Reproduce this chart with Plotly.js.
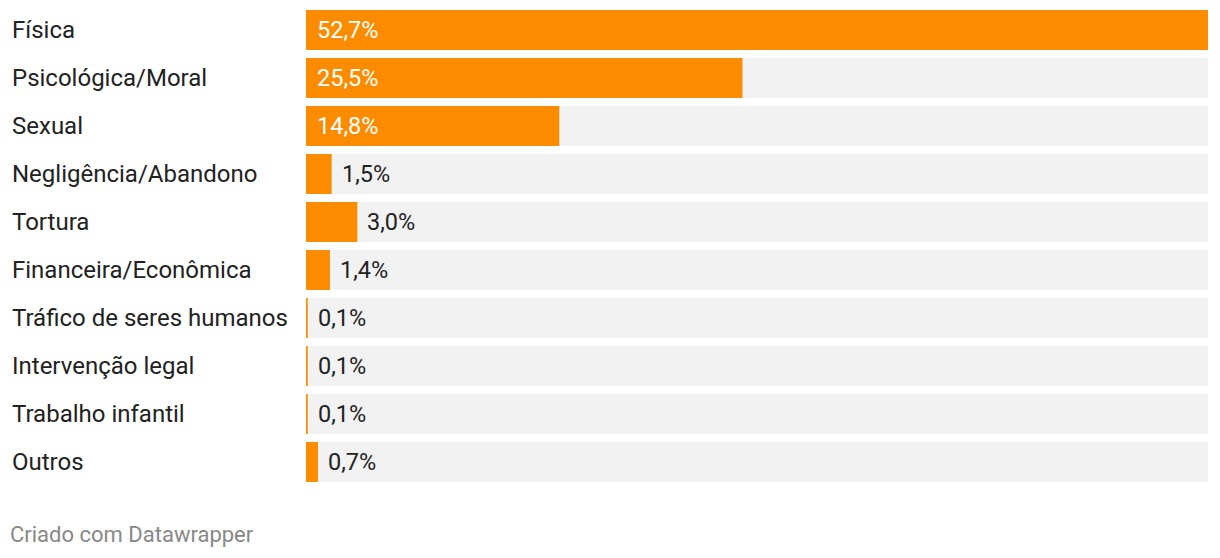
<!DOCTYPE html>
<html>
<head>
<meta charset="utf-8">
<script src="https://cdn.plot.ly/plotly-3.0.1.min.js"></script>
<style>
html,body{margin:0;padding:0;background:#fff;}
#chart{width:1220px;height:558px;}
</style>
</head>
<body>
<div id="chart"></div>
<script>
const categories = ["Física","Psicológica/Moral","Sexual","Negligência/Abandono","Tortura","Financeira/Econômica","Tráfico de seres humanos","Intervenção legal","Trabalho infantil","Outros"];
const values = [52.7, 25.5, 14.8, 1.5, 3.0, 1.4, 0.1, 0.1, 0.1, 0.7];
const valueLabels = ["52,7%","25,5%","14,8%","1,5%","3,0%","1,4%","0,1%","0,1%","0,1%","0,7%"];
const maxValue = 52.7;
const insideThreshold = 10;

const FONT = "Roboto, 'Noto Sans', sans-serif";

const bg = {
  type: "bar", orientation: "h",
  y: categories, x: categories.map(() => maxValue),
  marker: {color: "#f2f2f2"}, width: 0.8333,
  hoverinfo: "skip", showlegend: false
};
const fg = {
  type: "bar", orientation: "h",
  y: categories, x: values,
  marker: {color: "#fb8c00"}, width: 0.8333,
  hoverinfo: "skip", showlegend: false
};

const annotations = [];
categories.forEach((c, i) => {
  annotations.push({
    xref: "paper", yref: "y", x: 0, y: c, xanchor: "left", yanchor: "middle",
    xshift: -296, text: c, showarrow: false,
    font: {family: FONT, size: 24, color: "#222"}
  });
  const inside = values[i] >= insideThreshold;
  annotations.push({
    xref: "x", yref: "y", x: inside ? 0 : values[i], y: c,
    xanchor: "left", yanchor: "middle", xshift: inside ? 9 : 8,
    text: valueLabels[i], showarrow: false,
    font: {family: FONT, size: 23.5, color: inside ? "#fff" : "#222"}
  });
});
annotations.push({
  xref: "paper", yref: "paper", x: 0, y: 0, xanchor: "left", yanchor: "middle",
  xshift: -298, yshift: -48, text: "Criado com Datawrapper", showarrow: false,
  font: {family: FONT, size: 22, color: "#888"}
});

const layout = {
  width: 1220, height: 558,
  margin: {l: 306, r: 12, t: 6, b: 72, pad: 0},
  paper_bgcolor: "#fff", plot_bgcolor: "#fff",
  barmode: "overlay",
  xaxis: {range: [0, maxValue], visible: false, fixedrange: true},
  yaxis: {range: [categories.length - 0.5, -0.5], showticklabels: false, showgrid: false, zeroline: false, showline: false, ticks: "", fixedrange: true},
  annotations: annotations,
  font: {family: FONT}
};

Plotly.newPlot("chart", [bg, fg], layout, {displayModeBar: false, staticPlot: true});
</script>
</body>
</html>
